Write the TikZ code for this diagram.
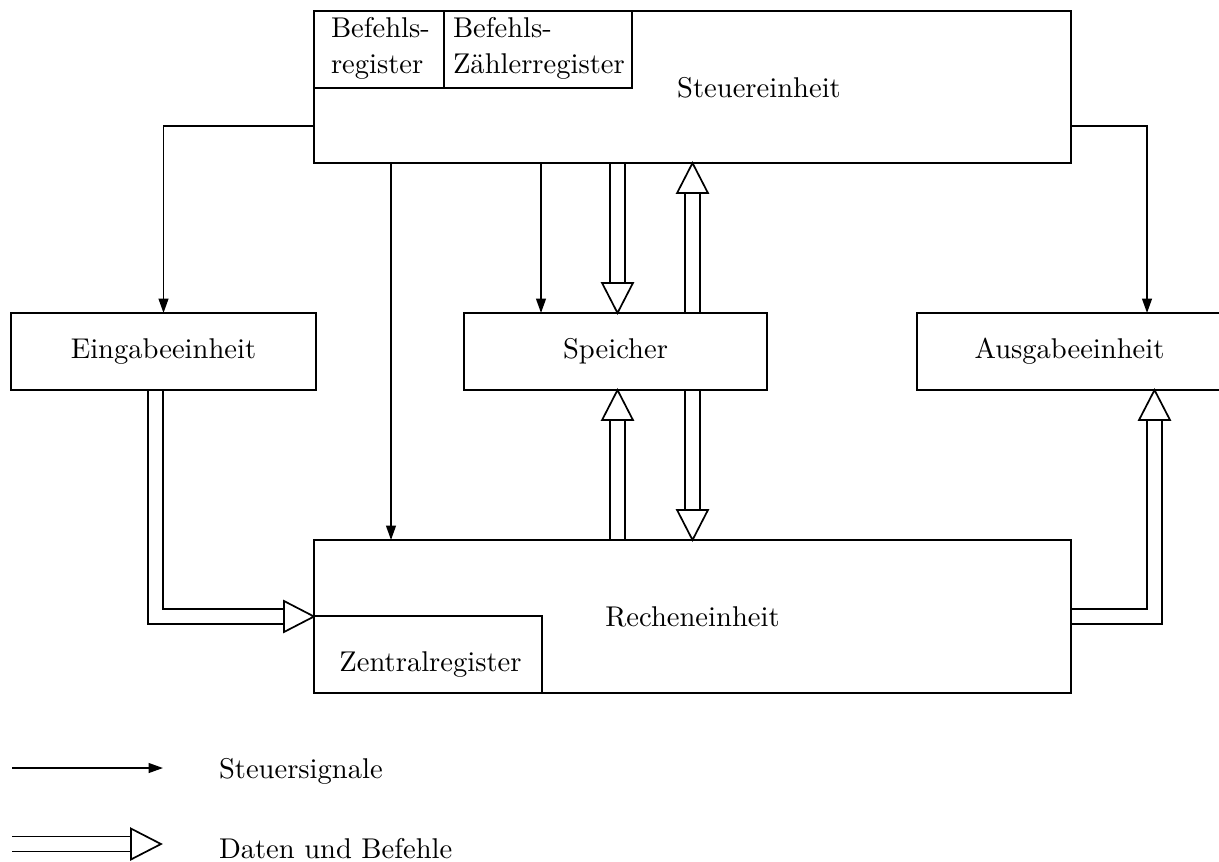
\documentclass[tikz,border=0pt]{standalone}
\usepackage{fontspec}
\usetikzlibrary{arrows.meta,calc}
\newcommand\darrow[2]{%
  \coordinate (da-s) at #1;
  \coordinate (da-t) at #2;
  \coordinate (da-b) at ($(da-t)!10.5pt!(da-s)$);
  \draw ($(da-s)!2.625pt!90:(da-t)$) -- ($(da-b)!2.625pt!-90:(da-s)$);
  \draw ($(da-s)!2.625pt!-90:(da-t)$) -- ($(da-b)!2.625pt!90:(da-s)$);
  \draw[line join=miter] ($(da-b)!5.4pt!90:(da-t)$) -- (da-t) -- ($(da-b)!5.4pt!-90:(da-t)$) -- cycle;
}
\begin{document}
\begin{tikzpicture}[x=0.35pt,y=-0.35pt,line width=0.6pt,
  box/.style={draw,rectangle,inner sep=0pt,outer sep=0pt},
  lbl/.style={inner sep=0pt,outer sep=0pt},
  ctrl/.style={-{Triangle[length=5pt,width=3.4pt]}}]
\useasboundingbox (0,0) rectangle (1219,861);

% boxes
\node[box,minimum width=264.95pt,minimum height=53.2pt] (steuer) at (692.5,87) {};
\node[lbl,anchor=base] (steuertxt) at (759,97) {Steuereinheit};
\node[box,minimum width=45.5pt,minimum height=26.95pt] (breg) at (379,49.5) {};
\node[lbl,anchor=base west] (bregA) at (331,37) {Befehls-};
\node[lbl,anchor=base west] (bregB) at (331,73) {register};
\node[box,minimum width=65.8pt,minimum height=26.95pt] (bzreg) at (538,49.5) {};
\node[lbl,anchor=base west] (bzregA) at (453,37) {Befehls-};
\node[lbl,anchor=base west] (bzregB) at (453,73) {Zählerregister};

\node[box,minimum width=106.75pt,minimum height=26.95pt] (eingabe) at (163.5,351.5) {Eingabeeinheit};
\node[box,minimum width=106.05pt,minimum height=26.95pt] (speicher) at (615.5,351.5) {Speicher};
\node[box,minimum width=106.75pt,minimum height=26.95pt] (ausgabe) at (1069.5,351.5) {Ausgabeeinheit};

\node[box,minimum width=264.95pt,minimum height=53.55pt] (rechen) at (692.5,616.5) {Recheneinheit};
\node[box,minimum width=79.8pt,minimum height=26.95pt] (zentral) at (428,654.5) {};
\node[lbl,anchor=base] (zentraltxt) at (430.5,671) {Zentralregister};

% control signals
\draw[ctrl] ($(steuer.west)+(0,39)$) -| (eingabe.north);
\draw[ctrl] ($(steuer.east)+(0,39)$) -| ($(ausgabe.north)+(77.5,0)$);
\coordinate (cR) at ($(steuer.south)+(-301.5,0)$);
\draw[ctrl] (cR) -- (rechen.north -| cR);
\coordinate (cS) at ($(speicher.north)+(-74.5,0)$);
\draw[ctrl] (steuer.south -| cS) -- (cS);

% data and instructions
\coordinate (dS) at ($(speicher.north)+(2,0)$);
\darrow{(steuer.south -| dS)}{(dS)}
\darrow{(speicher.north -| steuer.south)}{(steuer.south)}
\coordinate (dR) at ($(speicher.south)+(2,0)$);
\darrow{(rechen.north -| dR)}{(dR)}
\darrow{(speicher.south -| rechen.north)}{(rechen.north)}

% Eingabe -> Rechen
\draw ($(eingabe.south)+(-0.5,0)$) |- ($(rechen.west)+(-30,-7.5)$);
\draw ($(eingabe.south)+(-15.5,0)$) |- ($(rechen.west)+(-30,7.5)$);
\draw[line join=miter] ($(rechen.west)+(-30,-15.5)$) -- (rechen.west) -- ($(rechen.west)+(-30,15.5)$) -- cycle;

% Rechen -> Ausgabe
\coordinate (aIn) at ($(ausgabe.south)+(85,0)$);
\draw ($(rechen.east)+(0,-7.5)$) -| ($(aIn)+(-7.5,30)$);
\draw ($(rechen.east)+(0,7.5)$) -| ($(aIn)+(7.5,30)$);
\draw[line join=miter] ($(aIn)+(-15.5,30)$) -- (aIn) -- ($(aIn)+(15.5,30)$) -- cycle;

% legend
\coordinate (l1s) at (12,768);
\coordinate (l1e) at (163,768);
\draw[ctrl] (l1s) -- (l1e);
\node[lbl,anchor=base west] (leg1) at (219,778) {Steuersignale};
\coordinate (l2s) at (12,844);
\coordinate (l2e) at (161,844);
\darrow{(l2s)}{(l2e)}
\node[lbl,anchor=base west] (leg2) at (219,858) {Daten und Befehle};
\end{tikzpicture}
\end{document}
